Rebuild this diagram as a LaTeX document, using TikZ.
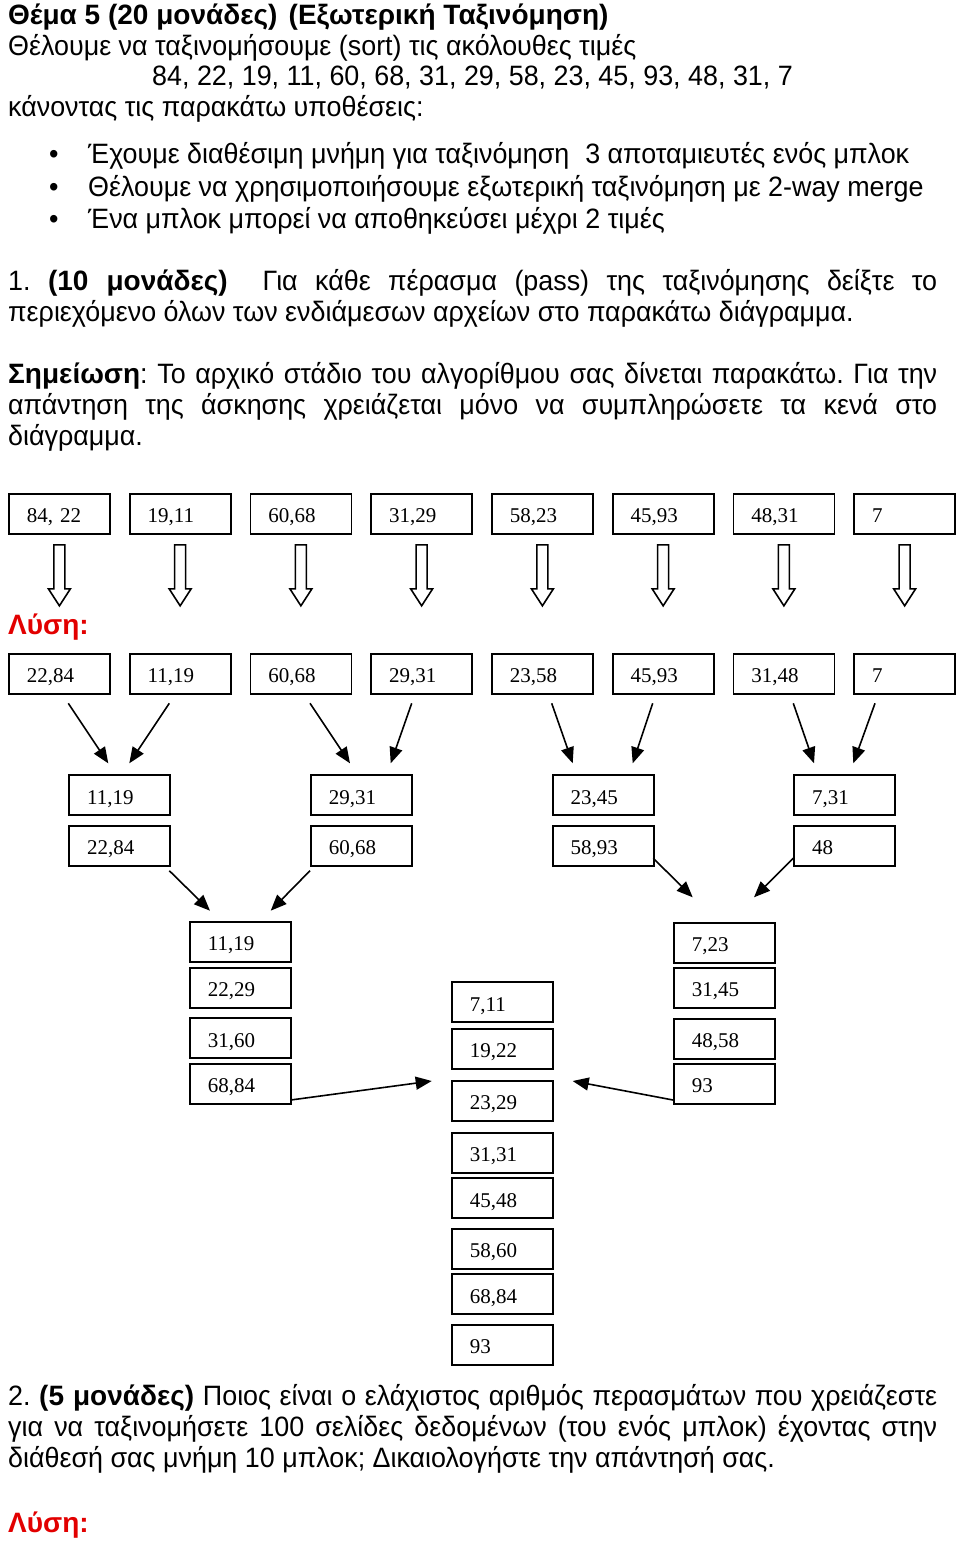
\documentclass[tikz,border=0pt]{standalone}
\usepackage{fontspec}
\setmainfont{Liberation Serif}
\newfontfamily\nar[FakeStretch=0.96]{Liberation Sans}
\newfontfamily\narb[FakeStretch=1.0]{Liberation Sans}
\usetikzlibrary{arrows.meta,calc}
\definecolor{lred}{RGB}{226,0,0}
\frenchspacing
\begin{document}
\begin{tikzpicture}[x=1pt,y=-1pt,
 cell/.style={draw, line width=1.8pt, minimum width=101pt, minimum height=40pt, inner sep=0pt, text width=65pt, align=left, text height=18pt, text depth=0pt, anchor=north west, font=\fontsize{21}{21}\selectfont},
 txt/.style={anchor=base west, inner sep=0pt, font=\nar\fontsize{28}{30}\selectfont},
 bold/.style={txt, font=\narb\bfseries\fontsize{28}{30}\selectfont},
 sol/.style={bold, text=lred},
 thin/.style={line width=1.6pt, -{Triangle[length=16pt,width=13pt]}},
 hollow/.style={draw, line width=1.6pt, fill=white}]
\useasboundingbox (0,0) rectangle (960,1545);

% ---------- text ----------
\node[bold] (title) at (8,24) {Θέμα 5 (20 μονάδες)\hspace{0.4em}(Εξωτερική Ταξινόμηση)};
\node[txt] (l2) at (8,55) {Θέλουμε να ταξινομήσουμε (sort) τις ακόλουθες τιμές};
\node[txt] (l3) at (152,85) {84, 22, 19, 11, 60, 68, 31, 29, 58, 23, 45, 93, 48, 31, 7};
\node[txt] (l4) at (8,116) {κάνοντας τις παρακάτω υποθέσεις:};
\node[txt] (bu1) at (49,163) {•};
\node[txt] (bu2) at (49,196) {•};
\node[txt] (bu3) at (49,228) {•};
\node[txt] (bt1) at (88,163) {Έχουμε διαθέσιμη μνήμη για ταξινόμηση\hspace{0.3em} 3 αποταμιευτές ενός μπλοκ};
\node[txt] (bt2) at (88,196) {Θέλουμε να χρησιμοποιήσουμε εξωτερική ταξινόμηση με 2-way merge};
\node[txt] (bt3) at (88,228) {Ένα μπλοκ μπορεί να αποθηκεύσει μέχρι 2 τιμές};
\node[txt] (q1a) at (8,290) {\makebox[929pt][s]{1. {\narb\bfseries (10 μονάδες)}\ \ Για κάθε πέρασμα (pass) της ταξινόμησης δείξτε το}};
\node[txt] (q1b) at (8,321) {περιεχόμενο όλων των ενδιάμεσων αρχείων στο παρακάτω διάγραμμα.};
\node[txt] (n1) at (8,383) {\makebox[929pt][s]{{\narb\bfseries Σημείωση}: Το αρχικό στάδιο του αλγορίθμου σας δίνεται παρακάτω. Για την}};
\node[txt] (n2) at (8,414) {\makebox[929pt][s]{απάντηση της άσκησης χρειάζεται μόνο να συμπληρώσετε τα κενά στο}};
\node[txt] (n3) at (8,445) {διάγραμμα.};
\node[sol] (sol1) at (8,634) {Λύση:};
\node[txt] (q2a) at (8,1405) {\makebox[929pt][s]{2. {\narb\bfseries (5 μονάδες)} Ποιος είναι ο ελάχιστος αριθμός περασμάτων που χρειάζεστε}};
\node[txt] (q2b) at (8,1436) {\makebox[929pt][s]{για να ταξινομήσετε 100 σελίδες δεδομένων (του ενός μπλοκ) έχοντας στην}};
\node[txt] (q2c) at (8,1467) {διάθεσή σας μνήμη 10 μπλοκ; Δικαιολογήστε την απάντησή σας.};
\node[sol] (sol2) at (8,1532) {Λύση:};

% ---------- row 1 and row 2 ----------
\foreach \i/\a/\b in {0/{84, 22}/{22,84},1/{19,11}/{11,19},2/{60,68}/{60,68},3/{31,29}/{29,31},4/{58,23}/{23,58},5/{45,93}/{45,93},6/{48,31}/{31,48},7/{7}/{7}}{
  \node[cell] (r1-\i) at ({8+120.75*\i},493) {\a};
  \node[cell] (r2-\i) at ({8+120.75*\i},653) {\b};
  \draw[hollow] ($(r1-\i.south)+(-5.5,10)$) -- ++(11,0) -- ++(0,44) -- ++(5.5,0) -- ++(-11,17) -- ++(-11,-17) -- ++(5.5,0) -- cycle;
}

% ---------- row 3 ----------
\node[cell] (r3a1) at (68.3,774.3) {11,19};
\node[cell] (r3a2) at (68.3,825) {22,84};
\node[cell] (r3b1) at (310,774.3) {29,31};
\node[cell] (r3b2) at (310,825) {60,68};
\node[cell] (r3c1) at (551.7,774.3) {23,45};
\node[cell] (r3c2) at (551.7,825) {58,93};
\node[cell] (r3d1) at (793.3,774.3) {7,31};
\node[cell] (r3d2) at (793.3,825) {48};

% ---------- row 4 ----------
\node[cell] (l1) at (189,921) {11,19};
\node[cell] (l2b) at (189,966.7) {22,29};
\node[cell] (l3b) at (189,1017.3) {31,60};
\node[cell] (l4b) at (189,1062.7) {68,84};
\node[cell] (rr1) at (673,922) {7,23};
\node[cell] (rr2) at (673,967) {31,45};
\node[cell] (rr3) at (673,1018) {48,58};
\node[cell] (rr4) at (673,1063) {93};
\node[cell] (m1) at (451,981.3) {7,11};
\node[cell] (m2) at (451,1027.7) {19,22};
\node[cell] (m3) at (451,1080) {23,29};
\node[cell] (m4) at (451,1131.7) {31,31};
\node[cell] (m5) at (451,1177.3) {45,48};
\node[cell] (m6) at (451,1227.7) {58,60};
\node[cell] (m7) at (451,1273.3) {68,84};
\node[cell] (m8) at (451,1324) {93};

% ---------- thin arrows ----------
\coordinate (s1) at (68.3,703.3);  \coordinate (t1) at (108.3,763.3);
\coordinate (s2) at (169.3,703.3); \coordinate (t2) at (129.3,763.3);
\coordinate (s3) at (310,703.3);   \coordinate (t3) at (350,763.3);
\coordinate (s4) at (411.7,703.3); \coordinate (t4) at (390.7,763.3);
\coordinate (s5) at (551.7,703.3); \coordinate (t5) at (572.7,763.3);
\coordinate (s6) at (652.7,703.3); \coordinate (t6) at (632.7,763.3);
\coordinate (s7) at (793.3,703.3); \coordinate (t7) at (814,763.3);
\coordinate (s8) at (875,703.3);   \coordinate (t8) at (853.3,763.3);
\foreach \k in {1,...,8} \draw[thin] (s\k) -- (t\k);

\coordinate (u1) at (169.3,870.7); \coordinate (v1) at (210,910.7);
\coordinate (u2) at (310,870.7);   \coordinate (v2) at (270.7,910.7);
\coordinate (u3) at (653.3,858.3); \coordinate (v3) at (692.7,897.3);
\coordinate (u4) at (793.3,858.3); \coordinate (v4) at (754,897.3);
\foreach \k in {1,...,4} \draw[thin] (u\k) -- (v\k);

\coordinate (w1) at (290.7,1100);  \coordinate (z1) at (431.7,1081);
\coordinate (w2) at (673,1100);    \coordinate (z2) at (572.7,1081);
\draw[thin] (w1) -- (z1);
\draw[thin] (w2) -- (z2);
\end{tikzpicture}
\end{document}
